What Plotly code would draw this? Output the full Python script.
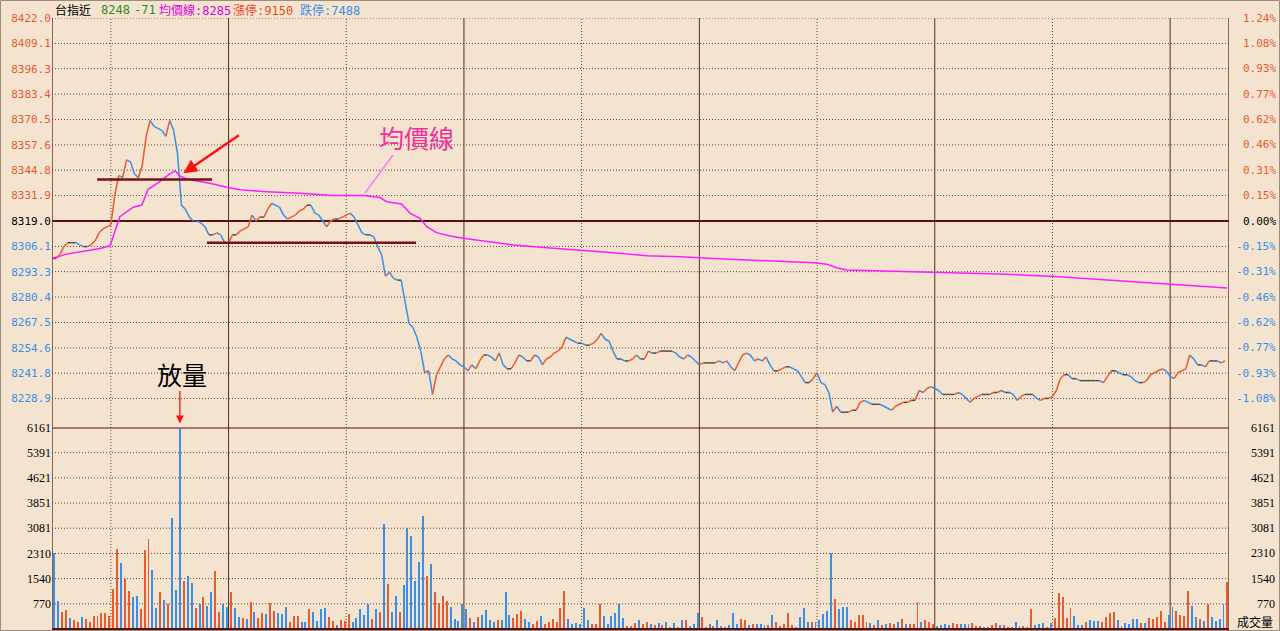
import plotly.graph_objects as go

# ---------------- data ----------------
minutes = list(range(300))

price = [
    8300, 8300, 8302, 8306, 8308, 8308, 8308, 8307, 8306, 8306,
    8307, 8309, 8313, 8315, 8316, 8317, 8332, 8342, 8341, 8350,
    8349, 8343, 8341, 8347, 8362, 8370, 8367, 8366, 8365, 8362,
    8370, 8365, 8353, 8327, 8325, 8321, 8319, 8319, 8318, 8316,
    8312, 8312, 8313, 8312, 8308, 8308, 8312, 8312, 8314, 8315,
    8316, 8322, 8319, 8321, 8321, 8325, 8328, 8327, 8326, 8322,
    8320, 8321, 8322, 8324, 8325, 8327, 8327, 8323, 8322, 8319,
    8316, 8319, 8320, 8320, 8321, 8322, 8323, 8321, 8317, 8313,
    8312, 8312, 8311, 8306, 8302, 8291, 8293, 8290, 8289, 8289,
    8278, 8267, 8265, 8260, 8253, 8242, 8243, 8231, 8241, 8245,
    8249, 8251, 8249, 8248, 8246, 8245, 8243, 8246, 8244, 8248,
    8251, 8251, 8250, 8248, 8252, 8246, 8244, 8244, 8247, 8251,
    8250, 8248, 8248, 8251, 8250, 8246, 8249, 8250, 8252, 8253,
    8255, 8260, 8259, 8258, 8257, 8257, 8256, 8256, 8257, 8259,
    8262, 8259, 8258, 8253, 8249, 8249, 8248, 8248, 8249, 8251,
    8249, 8249, 8253, 8252, 8252, 8253, 8253, 8253, 8253, 8252,
    8250, 8249, 8251, 8250, 8248, 8246, 8247, 8247, 8247, 8247,
    8248, 8247, 8248, 8245, 8243, 8247, 8251, 8252, 8251, 8248,
    8249, 8248, 8250, 8246, 8243, 8243, 8244, 8245, 8245, 8244,
    8243, 8240, 8237, 8237, 8239, 8242, 8237, 8236, 8232, 8222,
    8225, 8222, 8222, 8222, 8223, 8223, 8227, 8228, 8227, 8226,
    8226, 8226, 8225, 8224, 8223, 8225, 8226, 8227, 8227, 8228,
    8228, 8233, 8232, 8234, 8235, 8234, 8233, 8231, 8231, 8231,
    8231, 8232, 8231, 8229, 8227, 8229, 8230, 8231, 8231, 8231,
    8232, 8232, 8233, 8232, 8232, 8231, 8228, 8230, 8231, 8231,
    8231, 8229, 8228, 8229, 8229, 8230, 8233, 8239, 8241, 8241,
    8239, 8239, 8238, 8238, 8238, 8238, 8238, 8238, 8237, 8240,
    8243, 8243, 8242, 8241, 8241, 8240, 8238, 8237, 8237, 8238,
    8241, 8242, 8243, 8244, 8243, 8240, 8239, 8242, 8243, 8244,
    8251, 8249, 8246, 8246, 8245, 8248, 8248, 8248, 8247, 8248,
]

volume = [
    2314, 856, 510, 571, 336, 275, 224, 367, 306, 224,
    398, 398, 479, 479, 398, 1223, 2436, 2008, 1539, 1172,
    968, 999, 601, 2416, 2752, 1804, 652, 1121, 887, 765,
    3384, 1192, 6161, 1457, 1631, 1396, 652, 765, 968, 714,
    1121, 1773, 510, 765, 683, 1121, 652, 367, 336, 306,
    826, 520, 336, 489, 459, 795, 550, 489, 459, 683,
    224, 398, 398, 224, 224, 622, 510, 255, 601, 652,
    367, 255, 112, 275, 255, 459, 224, 336, 601, 428,
    765, 306, 601, 510, 3211, 1376, 510, 1009, 510, 1355,
    3099, 2844, 1457, 2038, 3466, 1631, 1978, 1121, 795, 999,
    846, 683, 306, 255, 765, 601, 336, 224, 367, 428,
    581, 275, 224, 275, 275, 1141, 428, 326, 459, 550,
    306, 224, 153, 245, 398, 143, 224, 306, 224, 652,
    1172, 306, 153, 173, 153, 652, 275, 153, 153, 754,
    398, 153, 398, 479, 775, 336, 92, 92, 194, 265,
    153, 224, 153, 122, 194, 122, 224, 71, 194, 51,
    265, 265, 92, 153, 479, 377, 71, 153, 92, 275,
    92, 71, 122, 479, 153, 306, 265, 122, 153, 153,
    153, 122, 122, 428, 224, 92, 153, 479, 122, 51,
    377, 652, 224, 224, 224, 275, 459, 550, 2314, 917,
    601, 683, 683, 265, 224, 428, 428, 224, 194, 122,
    275, 112, 153, 194, 153, 224, 306, 153, 153, 143,
    836, 224, 275, 214, 153, 92, 122, 153, 122, 173,
    153, 153, 153, 153, 173, 92, 92, 51, 51, 122,
    173, 122, 122, 71, 51, 214, 92, 102, 51, 612,
    122, 143, 173, 71, 194, 336, 1091, 968, 347, 652,
    398, 122, 122, 224, 275, 245, 245, 214, 377, 479,
    510, 275, 102, 173, 153, 306, 306, 194, 173, 347,
    306, 377, 550, 224, 428, 683, 550, 428, 398, 1172,
    714, 377, 306, 245, 754, 377, 245, 306, 754, 1447,
]

# o = rising (red/orange) bar, b = falling (blue) bar
volume_dir = (
    "bboobooboo" "oooooooboo" "bbooobbobo" "bbbobbobob" "boobbobbob"
    "obooboobbb" "ooobbobbbb" "oobooobbbb" "bobobobbob" "bbbbbobooo"
    "obbbbbobob" "bbbobbbooo" "bboobooooo" "obbbbbbooo" "bbbbbbooob"
    "oobobobobo" "bobbboobob" "bobbboobob" "bbobooooob" "bbbobbbbbo"
    "bbbooooobo" "bobooboboo" "obooobbbbo" "obbbooobbo" "obobobbooo"
    "bbbobooooo" "bbbobbbooo" "obbbbbbobo" "oooobboooo" "bbobobbbbo"
)

avg_minutes = [0, 3.7, 8.8, 12.2, 14.8, 15.6, 17.3, 20.7, 22.9, 24.5, 27.1, 30, 31.4,
               32.6, 34.3, 37.7, 41.1, 44.5, 47.9, 54.7, 63.2, 71.7, 79.4, 83.6, 85.3,
               89.1, 91.3, 93.8, 95.5, 98, 101.5, 104.8, 109.1, 117.6, 126.1, 134.6,
               143.1, 151.6, 160.1, 168.6, 177.1, 185.6, 194.1, 197.5, 200, 202.6,
               216.2, 228.9, 241.6, 254.4, 267.1, 279.9, 287.5, 299.5]
avg_price = [8300.0, 8302.2, 8303.9, 8305.1, 8306.4, 8311.0, 8321.2, 8326.0, 8327.1,
             8335.1, 8338.5, 8342.9, 8344.4, 8341.9, 8340.3, 8339.0, 8337.8, 8336.1,
             8334.8, 8333.9, 8333.1, 8331.9, 8331.9, 8330.9, 8328.8, 8327.6, 8322.9,
             8320.4, 8316.1, 8313.1, 8311.4, 8310.2, 8309.1, 8306.8, 8305.4, 8304.3,
             8302.9, 8301.4, 8300.9, 8300.0, 8299.2, 8298.7, 8297.8, 8297.1, 8295.3,
             8294.1, 8293.6, 8292.8, 8292.1, 8291.0, 8289.3, 8287.5, 8286.5, 8285.0]

ref_price = 8319.0
price_ticks = [8422.0, 8409.1, 8396.3, 8383.4, 8370.5, 8357.6, 8344.8, 8331.9,
               8319.0, 8306.1, 8293.3, 8280.4, 8267.5, 8254.6, 8241.8, 8228.9]
pct_labels = ["1.24%", "1.08%", "0.93%", "0.77%", "0.62%", "0.46%", "0.31%", "0.15%",
              "0.00%", "-0.15%", "-0.31%", "-0.46%", "-0.62%", "-0.77%", "-0.93%", "-1.08%"]
vol_ticks = [6161, 5391, 4621, 3851, 3081, 2310, 1540, 770]
solid_grid_minutes = [45, 105, 165, 225, 285]
dotted_grid_minutes = [15, 75, 135, 195, 255]

support_lines = [  # (start minute, end minute, price level)
    (11.5, 40.8, 8340.0),
    (39.5, 92.8, 8308.0),
]

header_parts = [  # (text, colour, left pixel)
    ("台指近", "#000000", 53),
    ("8248", "#2E8B2E", 99),
    ("-71", "#2E8B2E", 132),
    ("均價線:8285", "#E000E0", 157),
    ("漲停:9150", "#EE4A1E", 231),
    ("跌停:7488", "#3A8EE6", 298),
]

# ---------------- styling ----------------
BG = "#F4E4CF"
UP = "#E85A30"
DOWN = "#3A8EE6"
FLAT = "#4A4A4A"
GRID = "#7A3A2C"
SOLID = "#5A2A20"
DARK = "#5A1010"

W, H = 1280, 631
ML, MR, MT, MB = 52, 51, 18, 2
PW = W - ML - MR
PH = H - MT - MB
price_range = [8216.0, 8422.0]
price_bottom_px = 424.0
vol_top_px = 427.5
price_dom = [(H - MB - price_bottom_px) / PH, 1.0]
vol_dom = [0.0, (H - MB - vol_top_px) / PH]


def px_to_paper_x(px):
    return (px - ML) / PW


def px_to_paper_y(py):
    return (H - MB - py) / PH


def label_color(v):
    if v > ref_price + 0.01:
        return UP
    if v < ref_price - 0.01:
        return DOWN
    return "#000000"


fig = go.Figure()

# price line split into rising / falling / flat segments
seg = {"up": ([], []), "down": ([], []), "flat": ([], [])}
for i in range(len(price) - 1):
    a, b = price[i], price[i + 1]
    key = "up" if b > a else ("down" if b < a else "flat")
    xs, ys = seg[key]
    xs += [minutes[i], minutes[i + 1], None]
    ys += [a, b, None]
for key, col in (("flat", FLAT), ("down", DOWN), ("up", UP)):
    xs, ys = seg[key]
    fig.add_trace(go.Scatter(x=xs, y=ys, mode="lines", yaxis="y", xaxis="x",
                             line=dict(color=col, width=1.5), hoverinfo="skip"))

# average price line
fig.add_trace(go.Scatter(x=avg_minutes, y=avg_price, mode="lines", yaxis="y",
                         line=dict(color="#FF1CFF", width=1.5), hoverinfo="skip"))

# volume bars
bar_colors = [UP if d == "o" else DOWN for d in volume_dir]
fig.add_trace(go.Bar(x=[m + 0.6 for m in minutes], y=volume, yaxis="y2", xaxis="x",
                     width=0.5, marker=dict(color=bar_colors, line=dict(width=0)),
                     hoverinfo="skip"))

shapes = []
# vertical grid lines
for m in dotted_grid_minutes:
    shapes.append(dict(type="line", xref="x", yref="paper", x0=m, x1=m, y0=0, y1=1,
                       line=dict(color=GRID, width=1, dash="1px,2px"), layer="below"))
for m in solid_grid_minutes:
    shapes.append(dict(type="line", xref="x", yref="paper", x0=m, x1=m, y0=0, y1=1,
                       line=dict(color=SOLID, width=1), layer="below"))
# horizontal grid lines, price pane
for v in price_ticks:
    if abs(v - ref_price) < 0.01:
        shapes.append(dict(type="line", xref="x", yref="y", x0=0, x1=300, y0=v, y1=v,
                           line=dict(color=DARK, width=2), layer="below"))
    else:
        shapes.append(dict(type="line", xref="x", yref="y", x0=0, x1=300, y0=v, y1=v,
                           line=dict(color=GRID, width=1, dash="1px,2px"), layer="below"))
# horizontal grid lines, volume pane
for v in vol_ticks:
    if v == max(vol_ticks):
        shapes.append(dict(type="line", xref="x", yref="y2", x0=0, x1=300, y0=v, y1=v,
                           line=dict(color=DARK, width=2), layer="below"))
    else:
        shapes.append(dict(type="line", xref="x", yref="y2", x0=0, x1=300, y0=v, y1=v,
                           line=dict(color=GRID, width=1, dash="1px,2px"), layer="below"))
# frame
shapes.append(dict(type="line", xref="x", yref="paper", x0=0, x1=0, y0=0, y1=1,
                   line=dict(color="#6B3A2E", width=1.5)))
shapes.append(dict(type="line", xref="x", yref="paper", x0=300, x1=300, y0=0, y1=1,
                   line=dict(color="#6B3A2E", width=1.5)))
shapes.append(dict(type="line", xref="x", yref="paper", x0=0, x1=300, y0=0, y1=0,
                   line=dict(color=DARK, width=2)))
# outer border of the window
shapes.append(dict(type="rect", xref="paper", yref="paper",
                   x0=px_to_paper_x(0.5), x1=px_to_paper_x(W - 0.5),
                   y0=px_to_paper_y(H - 0.5), y1=px_to_paper_y(0.5),
                   line=dict(color="#9C8C7C", width=1)))
# support / resistance lines
for m0, m1, lvl in support_lines:
    shapes.append(dict(type="line", xref="x", yref="y", x0=m0, x1=m1, y0=lvl, y1=lvl,
                       line=dict(color="#7A1010", width=2.5)))
# pointer for the 均價線 label
shapes.append(dict(type="line", xref="x", yref="y", x0=86.9, y0=8352.5, x1=79.8, y1=8333.2,
                   line=dict(color="#F290F0", width=2)))

annotations = []
# right side percent labels
for v, t in zip(price_ticks, pct_labels):
    annotations.append(dict(xref="paper", yref="y", x=px_to_paper_x(1278), y=v,
                            xanchor="right", yanchor="middle", text=t, showarrow=False,
                            font=dict(family="DejaVu Sans Mono", size=11, color=label_color(v))))
# right side volume labels
for v in vol_ticks:
    annotations.append(dict(xref="paper", yref="y2", x=px_to_paper_x(1277), y=v,
                            xanchor="right", yanchor="middle", text=str(v), showarrow=False,
                            font=dict(family="Liberation Serif", size=12, color="#000000")))
annotations.append(dict(xref="paper", yref="paper", x=px_to_paper_x(1255), y=px_to_paper_y(621),
                        xanchor="center", yanchor="middle", text="成交量", showarrow=False,
                        font=dict(family="Noto Sans CJK TC", size=12, color="#000000")))
# header
for t, c, pxl in header_parts:
    annotations.append(dict(xref="paper", yref="paper", x=px_to_paper_x(pxl), y=px_to_paper_y(10),
                            xanchor="left", yanchor="middle", text=t, showarrow=False,
                            font=dict(family="DejaVu Sans Mono, Noto Sans CJK TC", size=12, color=c)))
# callouts
annotations.append(dict(xref="x", yref="y", x=93.0, y=8361.7, text="均價線", showarrow=False,
                        font=dict(family="Noto Sans CJK TC", size=25, color="#F0309A")))
annotations.append(dict(xref="x", yref="y", x=33.1, y=8241.3, text="放量", showarrow=False,
                        font=dict(family="Noto Sans CJK TC", size=25, color="#000000")))
annotations.append(dict(xref="x", yref="y", x=33.5, y=8343.2, ax=57, ay=-39, text="",
                        showarrow=True, arrowhead=2, arrowsize=1.1, arrowwidth=2.5,
                        arrowcolor="#FF1010", standoff=0))
annotations.append(dict(xref="x", yref="y", x=32.6, y=8216.3, ax=0, ay=-34, text="",
                        showarrow=True, arrowhead=2, arrowsize=1.2, arrowwidth=1.3,
                        arrowcolor="#FF1010", standoff=0))

ticktext = [f'<span style="color:{label_color(v)}">{v:.1f}</span>' for v in price_ticks]

fig.update_layout(
    width=W, height=H,
    margin=dict(l=ML, r=MR, t=MT, b=MB, pad=0),
    paper_bgcolor=BG, plot_bgcolor=BG,
    showlegend=False, bargap=0,
    xaxis=dict(range=[0, 300], domain=[0, 1], anchor="y2", showgrid=False, zeroline=False,
               showticklabels=False, showline=False, ticks=""),
    yaxis=dict(domain=price_dom, range=price_range, anchor="x", tickmode="array",
               tickvals=price_ticks, ticktext=ticktext, showgrid=False, zeroline=False,
               showline=False, ticks="",
               tickfont=dict(family="DejaVu Sans Mono", size=11)),
    yaxis2=dict(domain=vol_dom, range=[0, max(vol_ticks)], anchor="x", tickmode="array",
                tickvals=vol_ticks, ticktext=[str(v) for v in vol_ticks], showgrid=False,
                zeroline=False, showline=False, ticks="",
                tickfont=dict(family="Liberation Serif", size=12, color="#000000")),
    shapes=shapes,
    annotations=annotations,
)

fig.write_html(
    "out.html",
    config={"displayModeBar": False, "staticPlot": True},
    post_script=(
        "document.documentElement.style.margin='0';"
        "document.body.style.margin='0';document.body.style.padding='0';"
        "document.body.style.overflow='hidden';"
        "document.body.style.background='" + BG + "';"
    ),
)
